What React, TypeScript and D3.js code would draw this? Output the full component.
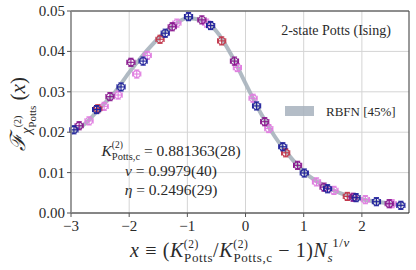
import React from 'react';
import * as d3 from 'd3';

// scaling function: x values and F(x) values
const xTicks = [-3, -2, -1, 0, 1, 2];
const yTicks = [0, 0.01, 0.02, 0.03, 0.04, 0.05];

const curveX = [-3, -2.75, -2.5, -2.25, -2, -1.75, -1.5, -1.25, -1, -0.75, -0.5, -0.25, 0, 0.25, 0.5, 0.75, 1, 1.25, 1.5, 1.75, 2, 2.25, 2.5, 2.7];
const curveY = [0.0198, 0.0222, 0.026, 0.0298, 0.0348, 0.0393, 0.0432, 0.0463, 0.0482, 0.0477, 0.045, 0.0393, 0.0321, 0.025, 0.019, 0.0142, 0.0102, 0.0076, 0.0057, 0.0043, 0.0034, 0.0028, 0.0023, 0.0019];

const blueX = [-2.95, -2.56, -2.14, -1.76, -1.38, -0.98, -0.6, 0.19, 0.64, 1.01, 1.41, 1.9, 2.25, 2.67];
const blueY = [0.0206, 0.0256, 0.0312, 0.0376, 0.0445, 0.0486, 0.0464, 0.0265, 0.0164, 0.0099, 0.006, 0.0038, 0.0028, 0.0019];

const purpleX = [-2.86, -2.33, -1.97, -1.26, -0.75, -0.19, 0.33, 0.895, 1.35, 1.85, 2.47];
const purpleY = [0.0216, 0.0288, 0.0373, 0.0461, 0.0478, 0.0376, 0.0226, 0.0118, 0.0064, 0.0039, 0.0023];

const redX = [-2.54, -1.47, -0.41, 0.69, 1.75];
const redY = [0.0258, 0.043, 0.0426, 0.0149, 0.0041];

const pinkX = [-2.69, -2.43, -2.19, -1.87, -1.69, -1.18, -0.67, -0.14, 0.13, 0.4, 1.22, 1.52, 2.06, 2.52];
const pinkY = [0.0228, 0.0264, 0.0292, 0.0344, 0.039, 0.047, 0.047, 0.036, 0.0284, 0.0209, 0.0077, 0.0056, 0.0033, 0.0023];

const xErr = 0.07;
const yErr = 0.001;

const series = [
  { xs: pinkX, ys: pinkY, color: '#e07ee0' },
  { xs: redX, ys: redY, color: '#c2384c' },
  { xs: purpleX, ys: purpleY, color: '#8a1a8f' },
  { xs: blueX, ys: blueY, color: '#23249c' },
];

const W = 416;
const H = 270;
const margin = { top: 11, left: 71, bottom: 57, right: 7 };
const font = '"Liberation Serif", "DejaVu Serif", serif';
const ink = '#2a2a2a';

const App: React.FC = () => {
  const x = d3.scaleLinear().domain([-3, 2.81]).range([margin.left, W - margin.right]);
  const y = d3.scaleLinear().domain([0, 0.05]).range([H - margin.bottom, margin.top]);

  const line = d3.line<number>()
    .x((_, i) => x(curveX[i]))
    .y(d => y(d))
    .curve(d3.curveMonotoneX);

  const x0 = x.range()[0], x1 = x.range()[1];
  const y0 = y.range()[0], y1 = y.range()[1];
  const cap = 2.6;

  return (
    <div style={{ position: 'absolute', left: 0, top: 0 }}>
      <svg width={W} height={H} style={{ display: 'block', background: '#fff' }} fontFamily={font}>
        {/* grid */}
        {xTicks.map(t => (
          <line key={'gx' + t} x1={x(t)} x2={x(t)} y1={y1} y2={y0} stroke="#d4d4d4" strokeWidth={1} />
        ))}
        {yTicks.map(t => (
          <line key={'gy' + t} x1={x0} x2={x1} y1={y(t)} y2={y(t)} stroke="#d4d4d4" strokeWidth={1} />
        ))}

        {/* RBFN curve */}
        <path d={line(curveY) || ''} fill="none" stroke="#a7b2bd" strokeWidth={4} strokeOpacity={0.9} />

        {/* data points */}
        {series.map((s, si) => (
          <g key={si} stroke={s.color} fill="none" strokeWidth={1.1}>
            {s.xs.map((xv, i) => {
              const cx = x(xv), cy = y(s.ys[i]);
              const ex = x(xv + xErr) - cx, ey = cy - y(s.ys[i] + yErr);
              return (
                <g key={i}>
                  <line x1={cx - ex} x2={cx + ex} y1={cy} y2={cy} />
                  <line x1={cx} x2={cx} y1={cy - ey} y2={cy + ey} />
                  <line x1={cx - ex} x2={cx - ex} y1={cy - cap} y2={cy + cap} />
                  <line x1={cx + ex} x2={cx + ex} y1={cy - cap} y2={cy + cap} />
                  <line x1={cx - cap} x2={cx + cap} y1={cy - ey} y2={cy - ey} />
                  <line x1={cx - cap} x2={cx + cap} y1={cy + ey} y2={cy + ey} />
                  <circle cx={cx} cy={cy} r={3.4} />
                </g>
              );
            })}
          </g>
        ))}

        {/* spines */}
        <line x1={x0} x2={x1} y1={y1} y2={y1} stroke="#333" strokeWidth={1.2} />
        <line x1={x1} x2={x1} y1={y1} y2={y0} stroke="#555" strokeWidth={1.2} />
        <line x1={x0} x2={x1} y1={y0} y2={y0} stroke="#222" strokeWidth={1.2} />
        <line x1={x0} x2={x0} y1={y1} y2={y0} stroke="#888" strokeWidth={1.6} />

        {/* ticks */}
        {xTicks.map(t => (
          <g key={'tx' + t}>
            <line x1={x(t)} x2={x(t)} y1={y0} y2={y0 + 4} stroke="#555" />
            <text x={x(t)} y={y0 + 18} textAnchor="middle" fontSize={15} fill={ink}>
              {t < 0 ? '\u2212' + Math.abs(t) : String(t)}
            </text>
          </g>
        ))}
        {yTicks.map(t => (
          <g key={'ty' + t}>
            <line x1={x0 - 4} x2={x0} y1={y(t)} y2={y(t)} stroke="#555" />
            <text x={x0 - 6} y={y(t) + 5} textAnchor="end" fontSize={15} fill={ink}>
              {t.toFixed(2)}
            </text>
          </g>
        ))}

        {/* y label */}
        <text transform={`translate(25,${(y0 + y1) / 2 + 2}) rotate(-90)`} textAnchor="middle" fontSize={21} fill={ink}>
          <tspan fontStyle="italic">ℱ</tspan>
          <tspan fontSize={15} dy={6} fontStyle="italic">χ</tspan>
          <tspan fontSize={10} dy={-10}>(2)</tspan>
          <tspan fontSize={11} dx={-12} dy={15}>Potts</tspan>
          <tspan dy={-11}> (</tspan>
          <tspan fontStyle="italic">x</tspan>
          <tspan>)</tspan>
        </text>

        {/* x label */}
        <text x={240} y={257} textAnchor="middle" fontSize={20} fill={ink} letterSpacing={0.6}>
          <tspan fontStyle="italic">x</tspan>
          <tspan> ≡ (</tspan>
          <tspan fontStyle="italic">K</tspan>
          <tspan fontSize={11.5} dy={-9}>(2)</tspan>
          <tspan fontSize={13} dx={-15} dy={14}>Potts</tspan>
          <tspan dy={-5}>/</tspan>
          <tspan fontStyle="italic">K</tspan>
          <tspan fontSize={11.5} dy={-9}>(2)</tspan>
          <tspan fontSize={13} dx={-15} dy={14}>Potts,c</tspan>
          <tspan dy={-5}> − 1)</tspan>
          <tspan fontStyle="italic">N</tspan>
          <tspan fontSize={13} fontStyle="italic" dy={5}>s</tspan>
          <tspan fontSize={13} dx={-1} dy={-15}>1/</tspan>
          <tspan fontSize={13} fontStyle="italic">ν</tspan>
        </text>

        {/* annotations */}
        <text x={336} y={35} textAnchor="middle" fontSize={14} fill={ink}>2-state Potts (Ising)</text>

        <rect x={285} y={106} width={29} height={10} fill="#a7b2bd" fillOpacity={0.85} />
        <text x={326} y={116} fontSize={13} fill={ink}>RBFN [45%]</text>

        <text x={171} y={156} textAnchor="middle" fontSize={15.5} fill={ink}>
          <tspan fontStyle="italic">K</tspan>
          <tspan fontSize={9.5} dy={-8}>(2)</tspan>
          <tspan fontSize={10.5} dx={-11} dy={12}>Potts,c</tspan>
          <tspan dy={-4}> = 0.881363(28)</tspan>
        </text>
        <text x={171} y={176} textAnchor="middle" fontSize={15.5} fill={ink}>
          <tspan fontStyle="italic">ν</tspan>
          <tspan> = 0.9979(40)</tspan>
        </text>
        <text x={171} y={195} textAnchor="middle" fontSize={15.5} fill={ink}>
          <tspan fontStyle="italic">η</tspan>
          <tspan> = 0.2496(29)</tspan>
        </text>
      </svg>
    </div>
  );
};

export default App;
